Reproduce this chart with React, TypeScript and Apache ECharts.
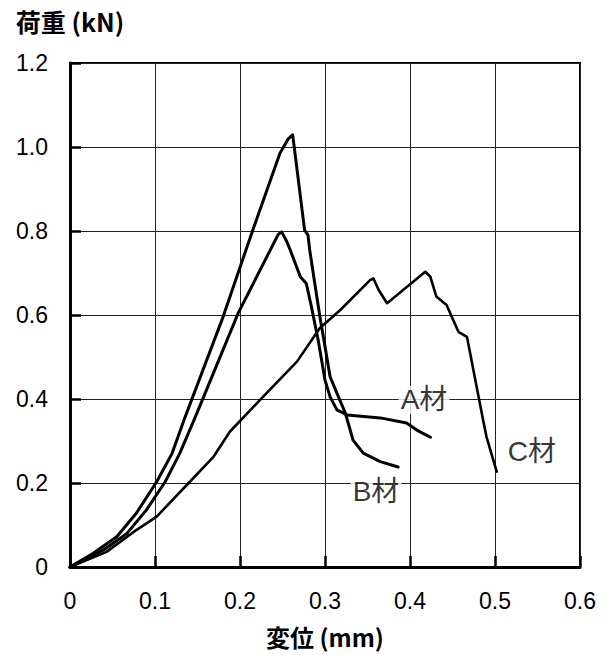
import React, { useEffect, useRef } from "react";
import * as echarts from "echarts";

// Displacement (mm) and load (kN)
const aDisp = [0, 0.039, 0.067, 0.09, 0.112, 0.129, 0.147, 0.198, 0.245, 0.249, 0.255, 0.259, 0.271, 0.278, 0.284, 0.292, 0.3, 0.306, 0.314, 0.326, 0.365, 0.396, 0.408, 0.424];
const aLoad = [0, 0.04, 0.08, 0.136, 0.203, 0.27, 0.355, 0.605, 0.792, 0.798, 0.775, 0.755, 0.691, 0.675, 0.62, 0.54, 0.445, 0.405, 0.374, 0.362, 0.355, 0.343, 0.326, 0.309];

const bDisp = [0, 0.0274, 0.055, 0.078, 0.102, 0.12, 0.135, 0.18, 0.215, 0.247, 0.257, 0.262, 0.276, 0.28, 0.282, 0.288, 0.294, 0.3, 0.306, 0.314, 0.324, 0.333, 0.345, 0.365, 0.386];
const bLoad = [0, 0.0326, 0.072, 0.128, 0.203, 0.27, 0.355, 0.595, 0.802, 0.985, 1.02, 1.029, 0.802, 0.79, 0.755, 0.675, 0.596, 0.525, 0.453, 0.414, 0.366, 0.302, 0.271, 0.251, 0.238];

const cDisp = [0, 0.043, 0.078, 0.102, 0.141, 0.169, 0.188, 0.227, 0.267, 0.294, 0.318, 0.353, 0.357, 0.363, 0.373, 0.418, 0.424, 0.431, 0.443, 0.457, 0.467, 0.486, 0.49, 0.502];
const cLoad = [0, 0.036, 0.088, 0.12, 0.203, 0.263, 0.322, 0.405, 0.489, 0.569, 0.612, 0.683, 0.687, 0.66, 0.628, 0.703, 0.691, 0.644, 0.624, 0.56, 0.548, 0.35, 0.31, 0.227];

const seriesNames = ["A材", "B材", "C材"];
const labelDisp = [0.4165, 0.36, 0.5435];
const labelLoad = [0.398, 0.18, 0.274];

const xTicks = [0, 0.1, 0.2, 0.3, 0.4, 0.5, 0.6];
const yTicks = [0, 0.2, 0.4, 0.6, 0.8, 1.0, 1.2];

const zip = (xs: number[], ys: number[]) => xs.map((x, i) => [x, ys[i]]);

const FONT = "'Liberation Sans', 'Noto Sans CJK JP', sans-serif";
const CJK = "'Noto Sans CJK JP', 'Liberation Sans', sans-serif";

export default function App() {
  const ref = useRef<HTMLDivElement>(null);
  useEffect(() => {
    if (!ref.current) return;
    const chart = echarts.init(ref.current, undefined, { renderer: "svg" });
    const lineSeries = [
      { data: zip(aDisp, aLoad), w: 3 },
      { data: zip(bDisp, bLoad), w: 3 },
      { data: zip(cDisp, cLoad), w: 2.6 },
    ].map((s, i) => ({
      type: "line",
      name: seriesNames[i],
      data: s.data,
      showSymbol: false,
      symbol: "none",
      smooth: false,
      lineStyle: { color: "#000", width: s.w, join: "round", cap: "round" },
      z: 5,
    }));
    const fmt = (ticks: number[]) => (v: number) =>
      ticks.includes(Math.round(v * 10) / 10) ? (v === 0 ? "0" : v.toFixed(1)) : "";
    chart.setOption({
      animation: false,
      backgroundColor: "#fff",
      grid: {
        left: 70,
        right: 28,
        top: 63,
        bottom: 88,
        show: true,
        borderColor: "#000",
        borderWidth: 2,
      },
      xAxis: {
        type: "value",
        min: 0,
        max: 0.6,
        interval: 0.1,
        name: "変位 (mm)",
        nameLocation: "middle",
        nameGap: 57,
        nameTextStyle: { fontFamily: CJK, fontSize: 24, color: "#000", fontWeight: "bold" },
        axisLine: { show: true, lineStyle: { color: "#000", width: 3 } },
        axisTick: { show: true, inside: true, length: 11, lineStyle: { color: "#000", width: 2.5 } },
        axisLabel: { margin: 22, fontFamily: FONT, fontSize: 23, color: "#000", formatter: fmt(xTicks) },
        splitLine: { show: true, lineStyle: { color: "#222", width: 1 } },
      },
      yAxis: {
        type: "value",
        min: 0,
        max: 1.2,
        interval: 0.2,
        name: "荷重 (kN)",
        nameLocation: "end",
        nameGap: 30,
        nameTextStyle: { fontFamily: CJK, fontSize: 25, color: "#000", fontWeight: "bold", align: "center" },
        axisLine: { show: true, lineStyle: { color: "#000", width: 3 } },
        axisTick: { show: true, inside: true, length: 11, lineStyle: { color: "#000", width: 2.5 } },
        axisLabel: { margin: 22, fontFamily: FONT, fontSize: 23, color: "#000", formatter: fmt(yTicks) },
        splitLine: { show: true, lineStyle: { color: "#222", width: 1 } },
      },
      series: [
        ...lineSeries,
        {
          type: "scatter",
          symbolSize: 1,
          itemStyle: { color: "rgba(0,0,0,0)" },
          data: seriesNames.map((n, i) => ({ name: n, value: [labelDisp[i], labelLoad[i]] })),
          label: {
            show: true,
            position: "inside",
            formatter: (p: any) => p.name,
            fontFamily: FONT,
            fontSize: 28,
            color: "#000",
            backgroundColor: "#fff",
            padding: [0, 2],
          },
          z: 10,
        },
      ],
    });
    return () => chart.dispose();
  }, []);
  return (
    <div
      ref={ref}
      style={{ position: "fixed", left: 0, top: 0, width: 608, height: 655 }}
    />
  );
}
